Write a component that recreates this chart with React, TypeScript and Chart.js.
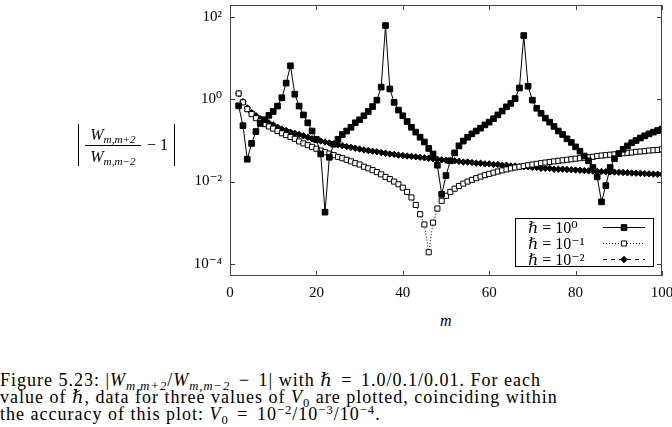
import { useEffect, useRef } from "react";
import { Chart, registerables } from "chart.js";

Chart.register(...registerables);

// m = 2 .. 100
const mValues = Array.from({ length: 99 }, (_, i) => i + 2);

// hbar = 10^0
const hbar1 = [
  0.70, 0.23, 0.035, 0.085, 0.165, 0.26, 0.32, 0.41, 0.51, 0.69,
  1.1, 2.5, 6.6, 1.34, 0.69, 0.42, 0.27, 0.17, 0.106, 0.047,
  0.0018, 0.039, 0.081, 0.107, 0.14, 0.17, 0.21, 0.27, 0.32, 0.40,
  0.51, 0.67, 0.96, 2.0, 63, 1.8, 0.85, 0.55, 0.40, 0.29,
  0.21, 0.16, 0.12, 0.092, 0.064, 0.047, 0.025, 0.0049, 0.014, 0.032,
  0.05, 0.074, 0.097, 0.12, 0.145, 0.17, 0.20, 0.24, 0.28, 0.34,
  0.42, 0.52, 0.66, 0.80, 1.05, 1.9, 36, 2.1, 0.96, 0.61,
  0.46, 0.35, 0.28, 0.22, 0.17, 0.14, 0.11, 0.09, 0.07, 0.055,
  0.042, 0.032, 0.022, 0.013, 0.0032, 0.008, 0.022, 0.036, 0.048, 0.061,
  0.074, 0.088, 0.10, 0.115, 0.13, 0.145, 0.16, 0.175, 0.19,
];

// hbar = 10^-1
const hbar2 = [
  1.4, 0.85, 0.58, 0.44, 0.35, 0.29, 0.25, 0.22, 0.195, 0.17,
  0.15, 0.135, 0.122, 0.11, 0.095, 0.085, 0.077, 0.07, 0.063, 0.057,
  0.052, 0.048, 0.044, 0.040, 0.037, 0.034, 0.031, 0.028, 0.026, 0.023,
  0.021, 0.019, 0.017, 0.015, 0.013, 0.0115, 0.010, 0.0086, 0.0071, 0.0056,
  0.0041, 0.0027, 0.0016, 0.0009, 0.00019, 0.001, 0.0022, 0.0034, 0.0045, 0.0056,
  0.0067, 0.0078, 0.0089, 0.010, 0.011, 0.0121, 0.0132, 0.0143, 0.0154, 0.0165,
  0.0176, 0.0187, 0.0198, 0.0209, 0.022, 0.023, 0.024, 0.025, 0.026, 0.027,
  0.028, 0.029, 0.030, 0.031, 0.032, 0.033, 0.034, 0.035, 0.036, 0.037,
  0.038, 0.039, 0.040, 0.042, 0.043, 0.044, 0.045, 0.046, 0.047, 0.049,
  0.050, 0.051, 0.053, 0.054, 0.055, 0.057, 0.058, 0.059, 0.061,
];

// hbar = 10^-2
const hbar3 = [
  1.4, 0.88, 0.62, 0.48, 0.40, 0.34, 0.30, 0.27, 0.24, 0.21,
  0.19, 0.175, 0.16, 0.15, 0.14, 0.13, 0.12, 0.11, 0.103, 0.097,
  0.092, 0.087, 0.083, 0.079, 0.075, 0.071, 0.068, 0.065, 0.062, 0.059,
  0.057, 0.055, 0.053, 0.051, 0.049, 0.047, 0.046, 0.044, 0.043, 0.042,
  0.041, 0.040, 0.039, 0.038, 0.037, 0.036, 0.035, 0.034, 0.033, 0.032,
  0.032, 0.031, 0.030, 0.030, 0.029, 0.028, 0.028, 0.027, 0.027, 0.026,
  0.026, 0.025, 0.025, 0.024, 0.024, 0.023, 0.023, 0.023, 0.022, 0.022,
  0.021, 0.021, 0.021, 0.020, 0.020, 0.020, 0.0197, 0.0194, 0.0191, 0.0188,
  0.0185, 0.0182, 0.018, 0.0178, 0.0176, 0.0174, 0.0172, 0.017, 0.0168, 0.0166,
  0.0164, 0.0162, 0.016, 0.0158, 0.0156, 0.0154, 0.0152, 0.0151, 0.015,
];

const legendLabels = ["ℏ = 10⁰", "ℏ = 10⁻¹", "ℏ = 10⁻²"];
const xTickValues = [0, 20, 40, 60, 80, 100];
const yTickValues = [1e-4, 1e-2, 1, 1e2];
const yTickLabels = ["10⁻⁴", "10⁻²", "10⁰", "10²"];

const FONT = "'Liberation Serif', 'DejaVu Serif', serif";
const FRAME = "#444";

const toPoints = (ys: number[]) => ys.map((y, i) => ({ x: mValues[i], y }));

function keyMarker(ctx: CanvasRenderingContext2D, ds: any, x: number, y: number) {
  const r = ds.pointRadius;
  ctx.beginPath();
  if (ds.pointStyle === "rectRot") {
    ctx.moveTo(x, y - r);
    ctx.lineTo(x + r, y);
    ctx.lineTo(x, y + r);
    ctx.lineTo(x - r, y);
    ctx.closePath();
  } else {
    const s = r * Math.SQRT1_2;
    ctx.rect(x - s, y - s, 2 * s, 2 * s);
  }
  ctx.fillStyle = ds.pointBackgroundColor;
  ctx.fill();
  ctx.strokeStyle = "#000";
  ctx.stroke();
}

// frame, inward ticks on all four sides, and the boxed key
const framePlugin = {
  id: "frame",
  afterDraw(chart: any) {
    const { ctx, chartArea: a, scales } = chart;
    ctx.save();
    ctx.strokeStyle = FRAME;
    ctx.lineWidth = 1;
    ctx.setLineDash([]);
    ctx.strokeRect(a.left + 0.5, a.top + 0.5, a.right - a.left - 1, a.bottom - a.top - 1);
    ctx.beginPath();
    xTickValues.forEach((v) => {
      const px = Math.round(scales.x.getPixelForValue(v)) + 0.5;
      ctx.moveTo(px, a.bottom);
      ctx.lineTo(px, a.bottom - 5);
      ctx.moveTo(px, a.top);
      ctx.lineTo(px, a.top + 5);
    });
    yTickValues.forEach((v) => {
      const py = Math.round(scales.y.getPixelForValue(v)) + 0.5;
      ctx.moveTo(a.left, py);
      ctx.lineTo(a.left + 5, py);
      ctx.moveTo(a.right, py);
      ctx.lineTo(a.right - 5, py);
    });
    ctx.stroke();

    // key
    const bx = 515.5;
    const by = 218.5;
    const bw = 138;
    const bh = 48;
    ctx.fillStyle = "#fff";
    ctx.fillRect(bx, by, bw, bh);
    ctx.strokeStyle = "#000";
    ctx.strokeRect(bx, by, bw, bh);
    chart.data.datasets.forEach((ds: any, i: number) => {
      const y = 227.5 + i * 16;
      ctx.fillStyle = "#000";
      ctx.font = `16px ${FONT}`;
      ctx.textAlign = "left";
      ctx.textBaseline = "middle";
      ctx.fillText(legendLabels[i], 528, y + 1);
      ctx.strokeStyle = "#000";
      ctx.lineWidth = 1;
      ctx.setLineDash(ds.borderDash || []);
      ctx.beginPath();
      ctx.moveTo(603, y);
      ctx.lineTo(645, y);
      ctx.stroke();
      ctx.setLineDash([]);
      keyMarker(ctx, ds, 624, y);
    });
    ctx.restore();
  },
};

function RatioChart() {
  const canvasRef = useRef<HTMLCanvasElement>(null);

  useEffect(() => {
    if (!canvasRef.current) return;
    const chart = new Chart(canvasRef.current, {
      type: "line",
      data: {
        datasets: [
          {
            label: legendLabels[0],
            data: toPoints(hbar1),
            borderColor: "#000",
            borderWidth: 1,
            pointStyle: "rect",
            pointRadius: 4,
            pointBackgroundColor: "#000",
            pointBorderColor: "#000",
            pointBorderWidth: 1,
            tension: 0,
          },
          {
            label: legendLabels[1],
            data: toPoints(hbar2),
            borderColor: "#000",
            borderWidth: 1,
            borderDash: [1, 2],
            pointStyle: "rect",
            pointRadius: 3.6,
            pointBackgroundColor: "#fff",
            pointBorderColor: "#000",
            pointBorderWidth: 1,
            tension: 0,
          },
          {
            label: legendLabels[2],
            data: toPoints(hbar3),
            borderColor: "#000",
            borderWidth: 1,
            borderDash: [4, 4],
            pointStyle: "rectRot",
            pointRadius: 3.2,
            pointBackgroundColor: "#000",
            pointBorderColor: "#000",
            pointBorderWidth: 1,
            tension: 0,
          },
        ] as any,
      },
      options: {
        animation: false,
        responsive: false,
        layout: { padding: { top: 0, right: 10, left: 0, bottom: 0 } },
        plugins: {
          legend: { display: false },
          tooltip: { enabled: false },
        },
        scales: {
          x: {
            type: "linear",
            min: 0,
            max: 100,
            afterBuildTicks: (s: any) => {
              s.ticks = xTickValues.map((v) => ({ value: v }));
            },
            afterFit: (s: any) => {
              s.height = 34;
              s.paddingLeft = 0;
              s.paddingRight = 0;
            },
            ticks: {
              color: "#000",
              font: { family: FONT, size: 15 },
              padding: 8,
              maxRotation: 0,
            },
            grid: { display: false, drawTicks: false },
            border: { display: false },
          },
          y: {
            type: "logarithmic",
            min: Math.pow(10, -4.3),
            max: Math.pow(10, 2.3),
            afterBuildTicks: (s: any) => {
              s.ticks = yTickValues.map((v) => ({ value: v }));
            },
            afterFit: (s: any) => {
              s.width = 230;
              s.paddingTop = 0;
              s.paddingBottom = 0;
            },
            ticks: {
              color: "#000",
              font: { family: FONT, size: 15 },
              padding: 8,
              callback: (v: any) => {
                const i = yTickValues.findIndex((t) => Math.abs(Math.log10(t) - Math.log10(v)) < 1e-6);
                return i >= 0 ? yTickLabels[i] : "";
              },
            },
            grid: { display: false, drawTicks: false },
            border: { display: false },
          },
        },
      },
      plugins: [framePlugin],
    });
    return () => chart.destroy();
  }, []);

  return <canvas ref={canvasRef} width={672} height={310} />;
}

const it = { fontStyle: "italic" } as const;
const sub = { fontSize: "0.7em", verticalAlign: "-0.3em", lineHeight: 0 } as const;
const sup = { fontSize: "0.7em", verticalAlign: "0.45em", lineHeight: 0 } as const;
const op = { margin: "0 3px" } as const;

export default function App() {
  return (
    <div
      style={{
        position: "absolute",
        left: 0,
        top: 0,
        width: 672,
        height: 427,
        background: "#fff",
        fontFamily: FONT,
        color: "#000",
        overflow: "hidden",
      }}
    >
      <div style={{ position: "absolute", left: 0, top: 0 }}>
        <RatioChart />
      </div>

      {/* y axis label */}
      <div
        style={{
          position: "absolute",
          left: 78,
          top: 124,
          height: 42,
          display: "flex",
          alignItems: "center",
          fontSize: 16,
          whiteSpace: "nowrap",
        }}
      >
        <div style={{ width: 0, height: 42, borderLeft: "1px solid #000", marginRight: 6 }} />
        <div style={{ display: "flex", flexDirection: "column", alignItems: "center" }}>
          <div style={{ lineHeight: "17px", paddingBottom: 2 }}>
            <span style={it}>W</span>
            <span style={{ ...sub, ...it }}>m,m+2</span>
          </div>
          <div style={{ width: 56, borderTop: "1px solid #000" }} />
          <div style={{ lineHeight: "17px", paddingTop: 2 }}>
            <span style={it}>W</span>
            <span style={{ ...sub, ...it }}>m,m−2</span>
          </div>
        </div>
        <div style={{ marginLeft: 6, marginRight: 6 }}>− 1</div>
        <div style={{ width: 0, height: 42, borderLeft: "1px solid #000" }} />
      </div>

      {/* x axis label */}
      <div
        style={{
          position: "absolute",
          left: 440,
          top: 312,
          fontSize: 16,
          fontStyle: "italic",
        }}
      >
        m
      </div>

      {/* caption */}
      <div
        style={{
          position: "absolute",
          left: 0,
          top: 372,
          fontSize: 18,
          letterSpacing: "1px",
          lineHeight: "17px",
          whiteSpace: "nowrap",
        }}
      >
        <div>
          Figure 5.23: |<span style={it}>W</span>
          <span style={{ ...sub, ...it }}>m,m+2</span>/<span style={it}>W</span>
          <span style={{ ...sub, ...it }}>m,m−2</span>
          <span style={op}> − </span>1| with ℏ<span style={op}> = </span>1.0/0.1/0.01. For each
        </div>
        <div>
          value of ℏ, data for three values of <span style={it}>V</span>
          <span style={sub}>0</span> are plotted, coinciding within
        </div>
        <div>
          the accuracy of this plot: <span style={it}>V</span>
          <span style={sub}>0</span>
          <span style={op}> = </span>10<span style={sup}>−2</span>/10<span style={sup}>−3</span>/10
          <span style={sup}>−4</span>.
        </div>
      </div>
    </div>
  );
}
